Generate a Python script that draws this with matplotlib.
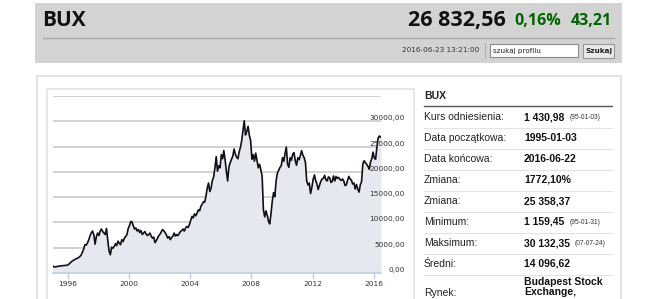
import numpy as np
import pandas as pd
import matplotlib
matplotlib.use("Agg")
import matplotlib.pyplot as plt
from matplotlib.patches import Rectangle
from matplotlib.transforms import blended_transform_factory

# BUX monthly closes (approx.)
bux_1995 = [1430, 1180, 1230, 1290, 1320, 1370, 1400, 1440, 1460, 1490, 1510, 1530]
bux_1996 = [1650, 1880, 2100, 2350, 2500, 2650, 2800, 2900, 3050, 3250, 3500, 4100]
bux_1997 = [4700, 5600, 5500, 5900, 6500, 7300, 7900, 8300, 7600, 5700, 7200, 7900]
bux_1998 = [7400, 8300, 8700, 8200, 7900, 7600, 8800, 6400, 4300, 3600, 5100, 4900]
bux_1999 = [5300, 5800, 5400, 6300, 5900, 5600, 6600, 6200, 6900, 7200, 7600, 8800]
bux_2000 = [9400, 10200, 10100, 9300, 8700, 8900, 8300, 8600, 8000, 8400, 7600, 7900]
bux_2001 = [8200, 7700, 7400, 7600, 7900, 7300, 6900, 7100, 6000, 6400, 6900, 7400]
bux_2002 = [7700, 8200, 8600, 8300, 8000, 7500, 6900, 7200, 6600, 7000, 7300, 7900]
bux_2003 = [7300, 7600, 7400, 7800, 8200, 8400, 8700, 8300, 8900, 9200, 9000, 9600]
bux_2004 = [10400, 11200, 10900, 11700, 11300, 11800, 12500, 12300, 13200, 13600, 14100, 14000]
bux_2005 = [15300, 16900, 17800, 16100, 16800, 18300, 19000, 20800, 23000, 20100, 21200, 20800]
bux_2006 = [23400, 22600, 24200, 22400, 20100, 18200, 21000, 21800, 22500, 23100, 24500, 23500]
bux_2007 = [22900, 22600, 23900, 24800, 26100, 28200, 30100, 27300, 28000, 29000, 27200, 26200]
bux_2008 = [22500, 23400, 22100, 23700, 22300, 20800, 21500, 20400, 19100, 12500, 11100, 12300]
bux_2009 = [11400, 10200, 9700, 11800, 14200, 15900, 15100, 18300, 19800, 20300, 20900, 21200]
bux_2010 = [22800, 22100, 23600, 24900, 21500, 20900, 22800, 22300, 23500, 23800, 22200, 21300]
bux_2011 = [22800, 22400, 23200, 24200, 23300, 22800, 21900, 18200, 17400, 17800, 15700, 16900]
bux_2012 = [18500, 19400, 18300, 17600, 16500, 17300, 18100, 18600, 18700, 19300, 18400, 18200]
bux_2013 = [19000, 18800, 17900, 18100, 19200, 18200, 19100, 18700, 18900, 18500, 18300, 18600]
bux_2014 = [18200, 17300, 17400, 18300, 19100, 18600, 18400, 17600, 17800, 16600, 17500, 16600]
bux_2015 = [16000, 17500, 18000, 21500, 22200, 21800, 21500, 21100, 20500, 21900, 22600, 23900]
bux_2016 = [22700, 22500, 24800, 26700, 27100, 26800]

y_ticks = [0, 5000, 10000, 15000, 20000, 25000, 30000, 35000]
x_tick_years = [1996, 2000, 2004, 2008, 2012, 2016]

table_labels = ["Kurs odniesienia:", "Data początkowa:", "Data końcowa:", "Zmiana:",
                "Zmiana:", "Minimum:", "Maksimum:", "Średni:", "Rynek:"]
table_values = ["1 430,98", "1995-01-03", "2016-06-22", "1772,10%", "25 358,37",
                "1 159,45", "30 132,35", "14 096,62", "Budapest Stock\nExchange,"]
table_notes = ["(95-01-03)", "", "", "", "", "(95-01-31)", "(07-07-24)", "", ""]

values = (bux_1995 + bux_1996 + bux_1997 + bux_1998 + bux_1999 + bux_2000 + bux_2001 +
          bux_2002 + bux_2003 + bux_2004 + bux_2005 + bux_2006 + bux_2007 + bux_2008 +
          bux_2009 + bux_2010 + bux_2011 + bux_2012 + bux_2013 + bux_2014 + bux_2015 + bux_2016)
dates = list(pd.date_range("1995-01-01", periods=len(values), freq="MS") + pd.Timedelta(days=14))
dates[0] = pd.Timestamp("1995-01-03")
dates[-1] = pd.Timestamp("2016-06-22")

W, H = 645, 299
fig = plt.figure(figsize=(6.45, 2.99), dpi=100)
fig.patch.set_facecolor("white")

# page layer in pixel coordinates
bg = fig.add_axes([0, 0, 1, 1])
bg.set_xlim(0, W)
bg.set_ylim(H, 0)
bg.axis("off")

head_font = "Open Sans"
bg.add_patch(Rectangle((35, 3), 587, 60, fc="#d3d3d3", ec="none"))
bg.plot([43, 614], [38, 38], color="#a9a9a9", lw=1)
bg.text(42, 21, "BUX", fontsize=15, fontweight="bold", family=head_font,
        color="#111111", va="center", ha="left")
bg.text(612, 21, "43,21", fontsize=11.5, fontweight="bold", family=head_font,
        color="#006400", va="center", ha="right")
bg.text(561, 21, "0,16%", fontsize=11.5, fontweight="bold", family=head_font,
        color="#006400", va="center", ha="right")
bg.text(506, 20.5, "26 832,56", fontsize=15.5, fontweight="bold", family=head_font,
        color="#111111", va="center", ha="right")

bg.text(479, 50.5, "2016-06-23 13:21:00", fontsize=5.2, family="DejaVu Sans",
        color="#333333", va="center", ha="right")
bg.plot([485, 485], [43, 58], color="#b0b0b0", lw=0.8)
bg.add_patch(Rectangle((490, 44), 88, 13, fc="white", ec="#8a8a8a", lw=0.8))
bg.text(493, 50.5, "szukaj profilu", fontsize=5.2, family="DejaVu Sans",
        color="#222222", va="center", ha="left")
bg.add_patch(Rectangle((583, 43.5), 31, 14, fc="#e9e9e9", ec="#9a9a9a", lw=0.8))
bg.text(598.5, 50.5, "Szukaj", fontsize=5.2, fontweight="bold", family="DejaVu Sans",
        color="#222222", va="center", ha="center")

# content panel and chart frame
bg.add_patch(Rectangle((37, 76), 584, 240, fc="white", ec="#dcdcdc", lw=1.2))
bg.add_patch(Rectangle((46.5, 88.5), 367, 240, fc="none", ec="#e2e2e2", lw=1.2))

# stats table
tab_font = "Liberation Sans"
bg.text(424, 96, "BUX", fontsize=7.5, fontweight="bold", family=tab_font,
        color="#222222", va="center")
bg.plot([424, 612], [105.5, 105.5], color="#555555", lw=1)
row_y = [117, 138, 159, 180, 201, 222, 243, 264, 293]
fig.canvas.draw()
renderer = fig.canvas.get_renderer()
for i, (lab, val, note) in enumerate(zip(table_labels, table_values, table_notes)):
    y = row_y[i]
    bg.text(424, y, lab, fontsize=7.5, family=tab_font, color="#222222", va="center")
    if "\n" in val:
        t = bg.text(524, y - 16, val, fontsize=7.5, fontweight="bold", family=tab_font,
                    color="#111111", va="top", linespacing=1.0)
    else:
        t = bg.text(524, y, val, fontsize=7.5, fontweight="bold", family=tab_font,
                    color="#111111", va="center")
    if note:
        bb = t.get_window_extent(renderer)
        x_end = bg.transData.inverted().transform((bb.x1, bb.y0))[0]
        bg.text(x_end + 5, y + 0.5, note, fontsize=4.8, family=tab_font,
                color="#333333", va="center")
    if i < len(row_y) - 1:
        sep = (row_y[i] + row_y[i + 1]) / 2 if i < 7 else y + 10.5
        bg.plot([424, 612], [sep, sep], color="#e3e3e3", lw=0.8)

# chart
x0, x1, ytop, y0 = 52.5, 381, 96, 273
ax = fig.add_axes([x0 / W, 1 - y0 / H, (x1 - x0) / W, (y0 - ytop) / H])
ax.patch.set_alpha(0)
ax.fill_between(dates, values, 0, color="#e6e8f0", lw=0, zorder=1)
for v in y_ticks[1:]:
    ax.axhline(v, color="#cfcfcf", lw=1.3, zorder=0)
ax.plot(dates, values, color="#101018", lw=1.2, zorder=3)
ax.set_xlim(dates[0], dates[-1])
ax.set_ylim(0, 35000)
for s in ["top", "right", "left"]:
    ax.spines[s].set_visible(False)
ax.spines["bottom"].set_color("#c0d0e0")
ax.spines["bottom"].set_linewidth(1.2)
ax.set_yticks([])
ax.set_xticks([pd.Timestamp(f"{yr}-01-01") for yr in x_tick_years])
ax.set_xticklabels([str(yr) for yr in x_tick_years], fontsize=5.3,
                   family="DejaVu Sans", color="#333333")
ax.tick_params(axis="x", length=4, width=1, color="#c0d0e0", pad=2)
label_tr = blended_transform_factory(bg.transData, ax.transData)
for v in y_ticks[:-1]:
    ax.text(405, v, f"{v},00", transform=label_tr, fontsize=5.3, family="DejaVu Sans",
            color="#333333", ha="right", va="bottom", clip_on=False)

fig.savefig("out.png", dpi=100)
